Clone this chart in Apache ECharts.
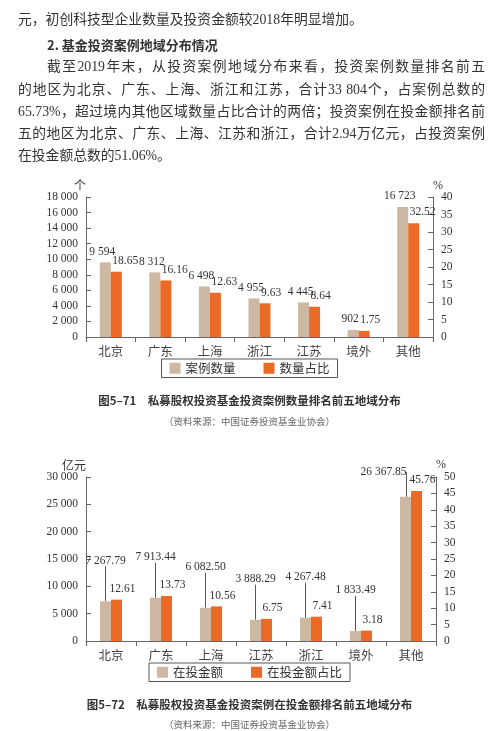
<!DOCTYPE html>
<html><head><meta charset="utf-8">
<script src="https://cdn.jsdelivr.net/npm/echarts@6/dist/echarts.min.js"></script>
<style>
body{margin:0;background:#fff;width:499px;height:731px;overflow:hidden;position:relative;font-family:'Liberation Serif','Noto Sans CJK SC',serif;color:#333}
.l{position:absolute;left:18px;width:467px;font-size:13.8px;height:22px;line-height:22px;text-align:justify;text-align-last:justify;white-space:nowrap}
#c{position:absolute;left:0;top:0;width:499px;height:731px}
</style></head><body>
<div id="c"></div>
<div class="l" style="top:9px;text-align-last:left">元，初创科技型企业数量及投资金额较2018年明显增加。</div>
<div class="l" style="top:34px;left:47px;text-align-last:left;font-family:'Noto Sans CJK SC';font-weight:bold;font-size:13px">2. 基金投资案例地域分布情况</div>
<div class="l" style="top:56px;left:47px;width:438px">截至2019年末，从投资案例地域分布来看，投资案例数量排名前五</div>
<div class="l" style="top:79px">的地区为北京、广东、上海、浙江和江苏，合计33 804个，占案例总数的</div>
<div class="l" style="top:101px">65.73%，超过境内其他区域数量占比合计的两倍；投资案例在投金额排名前</div>
<div class="l" style="top:123px">五的地区为北京、广东、上海、江苏和浙江，合计2.94万亿元，占投资案例</div>
<div class="l" style="top:145px;text-align-last:left">在投金额总数的51.06%。</div>
<script>
const cats1=['北京','广东','上海','浙江','江苏','境外','其他'];
const count1=[9594,8312,6498,4955,4445,902,16723];
const pct1=[18.65,16.16,12.63,9.63,8.64,1.75,32.52];
const cats2=['北京','广东','上海','江苏','浙江','境外','其他'];
const amt2=[7267.79,7913.44,6082.50,3888.29,4267.48,1833.49,26367.85];
const pct2=[12.61,13.73,10.56,6.75,7.41,3.18,45.76];
const beige='#cdb8a3',orange='#eb6a25';
const F="'Liberation Serif','Noto Sans CJK SC',serif";
const fmt=(v,d)=>{let s=d?v.toFixed(d):String(v);let [i,f]=s.split('.');i=i.replace(/\B(?=(\d{3})+(?!\d))/g,' ');return f?i+'.'+f:i;};
const axisLine={show:true,lineStyle:{color:'#666'}};
const axisLabel={color:'#333',fontFamily:F,fontSize:11.5};
const xl={...axisLabel,fontSize:12.5,fontFamily:'Noto Sans CJK SC',color:'#444'};
const lg={top:359,left:'center',itemGap:28,itemWidth:11,itemHeight:11,borderColor:'#555',borderWidth:1,borderRadius:0,padding:[3,8],textStyle:{fontFamily:'Noto Sans CJK SC',fontSize:12.5,color:'#333'},icon:'rect'};
const lbl={show:true,position:'top',color:'#333',fontSize:11.5,fontFamily:F};
const ch=echarts.init(document.getElementById('c'));
ch.setOption({
 textStyle:{fontFamily:F},
 grid:[{left:86,right:66,top:197,height:140},{left:86,right:63,top:477,height:164}],
 xAxis:[
  {gridIndex:0,type:'category',data:cats1,axisLine,axisTick:{show:true,lineStyle:{color:'#666'}},axisLabel:xl},
  {gridIndex:1,type:'category',data:cats2,axisLine,axisTick:{show:true,lineStyle:{color:'#666'}},axisLabel:xl}],
 yAxis:[
  {gridIndex:0,min:0,max:18000,interval:2000,name:'个',nameGap:4,nameTextStyle:{fontFamily:'Noto Sans CJK SC',color:'#333',align:'right'},axisLine,axisTick:{show:true,inside:true},splitLine:{show:false},axisLabel:{...axisLabel,formatter:v=>fmt(v)}},
  {gridIndex:0,min:0,max:40,interval:5,name:'%',nameGap:4,nameTextStyle:{color:'#333',align:'left'},axisLine,axisTick:{show:true,inside:true},splitLine:{show:false},axisLabel},
  {gridIndex:1,min:0,max:30000,interval:5000,name:'亿元',nameGap:6,nameTextStyle:{fontFamily:'Noto Sans CJK SC',color:'#333',align:'right'},axisLine,axisTick:{show:true,inside:true},splitLine:{show:false},axisLabel:{...axisLabel,formatter:v=>fmt(v)}},
  {gridIndex:1,min:0,max:50,interval:5,name:'%',nameGap:6,nameTextStyle:{color:'#333',align:'left'},axisLine,axisTick:{show:true,inside:true},splitLine:{show:false},axisLabel}],
 legend:[
  {...lg,data:['案例数量','数量占比']},
  {...lg,data:['在投金额','在投金额占比'],top:663}],
 title:[
  {text:'图5–71　私募股权投资基金投资案例数量排名前五地域分布',left:'center',top:390,textStyle:{fontFamily:'Noto Sans CJK SC',fontSize:11.5,fontWeight:'bold',color:'#333'}},
  {text:'（资料来源：中国证券投资基金业协会）',left:'center',top:412,textStyle:{fontFamily:'Noto Sans CJK SC',fontSize:9.5,fontWeight:'normal',color:'#666'}},
  {text:'图5–72　私募股权投资基金投资案例在投金额排名前五地域分布',left:'center',top:694,textStyle:{fontFamily:'Noto Sans CJK SC',fontSize:11.5,fontWeight:'bold',color:'#333'}},
  {text:'（资料来源：中国证券投资基金业协会）',left:'center',top:715,textStyle:{fontFamily:'Noto Sans CJK SC',fontSize:9.5,fontWeight:'normal',color:'#666'}}],
 series:[
  {name:'案例数量',type:'bar',xAxisIndex:0,yAxisIndex:0,data:count1,barWidth:11,barGap:'0%',itemStyle:{color:beige},label:{...lbl,offset:[-3,0],formatter:p=>fmt(p.value)}},
  {name:'数量占比',type:'bar',xAxisIndex:0,yAxisIndex:1,data:pct1,barWidth:11,itemStyle:{color:orange},label:{...lbl,align:'left',offset:[-4,0],formatter:p=>p.value.toFixed(2)}},
  {name:'在投金额',type:'bar',xAxisIndex:1,yAxisIndex:2,data:amt2,barWidth:11,barGap:'0%',itemStyle:{color:beige},
   label:{...lbl,formatter:p=>fmt(p.value,2)},
   labelLayout:p=>p.dataIndex===6?{dx:-22,dy:-14}:{dy:-30},
   labelLine:{show:true,lineStyle:{color:'#555',width:1}}},
  {name:'在投金额占比',type:'bar',xAxisIndex:1,yAxisIndex:3,data:pct2,barWidth:11,itemStyle:{color:orange},label:{...lbl,offset:[6,0],formatter:p=>p.value.toFixed(2)}}
 ]
});
</script>
</body></html>
